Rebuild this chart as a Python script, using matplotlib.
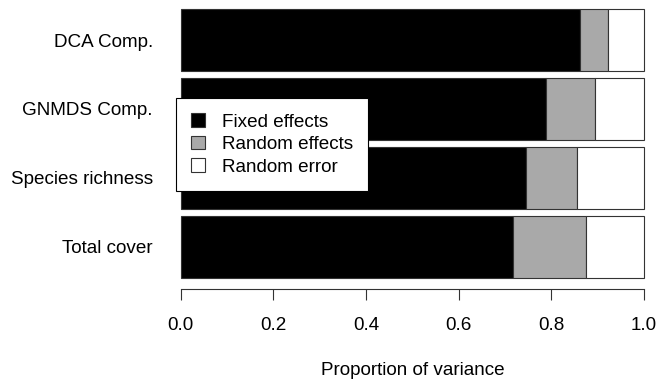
import matplotlib.pyplot as plt
from matplotlib.patches import Patch

plt.rcParams['font.family'] = ['Liberation Sans', 'DejaVu Sans']

# bottom to top
responses = ['Total cover', 'Species richness', 'GNMDS Comp.', 'DCA Comp.']
fixed = [0.717, 0.745, 0.789, 0.861]
random_eff = [0.158, 0.110, 0.105, 0.061]
components = ['Fixed effects', 'Random effects', 'Random error']
colours = ['black', '#A9A9A9', 'white']

random_err = [1 - f - r for f, r in zip(fixed, random_eff)]
fs = 13.6

fig = plt.figure(figsize=(6.6, 3.83), dpi=100)
ax = fig.add_axes([180.7 / 660, 1 - 277.7 / 383, 463.3 / 660, 268.7 / 383])

y = list(range(len(responses)))
left = [0.0] * len(responses)
for vals, col in zip([fixed, random_eff, random_err], colours):
    ax.barh(y, vals, left=left, height=0.9, color=col, edgecolor='#333333',
            linewidth=0.8, clip_on=False)
    left = [a + b for a, b in zip(left, vals)]

ax.set_xlim(0, 1)
ax.set_ylim(-0.45, 3.45)
for s in ['top', 'right', 'left']:
    ax.spines[s].set_visible(False)
ax.spines['bottom'].set_position(('outward', 8.1))
ax.spines['bottom'].set_bounds(0, 1)
ax.spines['bottom'].set_color('#333333')
ax.spines['bottom'].set_linewidth(0.8)

ax.set_xticks([0, 0.2, 0.4, 0.6, 0.8, 1.0])
ax.set_xticklabels(['0.0', '0.2', '0.4', '0.6', '0.8', '1.0'])
ax.tick_params(axis='x', length=7.9, width=0.8, color='#333333', pad=12.5, labelsize=fs)
ax.set_yticks(y)
ax.set_yticklabels(responses)
ax.tick_params(axis='y', length=0, pad=20, labelsize=fs)
ax.set_xlabel('Proportion of variance', fontsize=fs, labelpad=20)

handles = [Patch(facecolor=c, edgecolor='#333333', linewidth=0.8) for c in colours]
leg = fig.legend(handles, components, loc='upper left',
                 bbox_to_anchor=(176 / 660, 1 - 98.3 / 383), borderaxespad=0,
                 fontsize=fs, fancybox=False, edgecolor='black', framealpha=1,
                 handlelength=0.74, handleheight=0.7, handletextpad=0.9,
                 labelspacing=0.28, borderpad=0.8)
leg.get_frame().set_linewidth(0.8)

fig.savefig('out.png', dpi=100)
